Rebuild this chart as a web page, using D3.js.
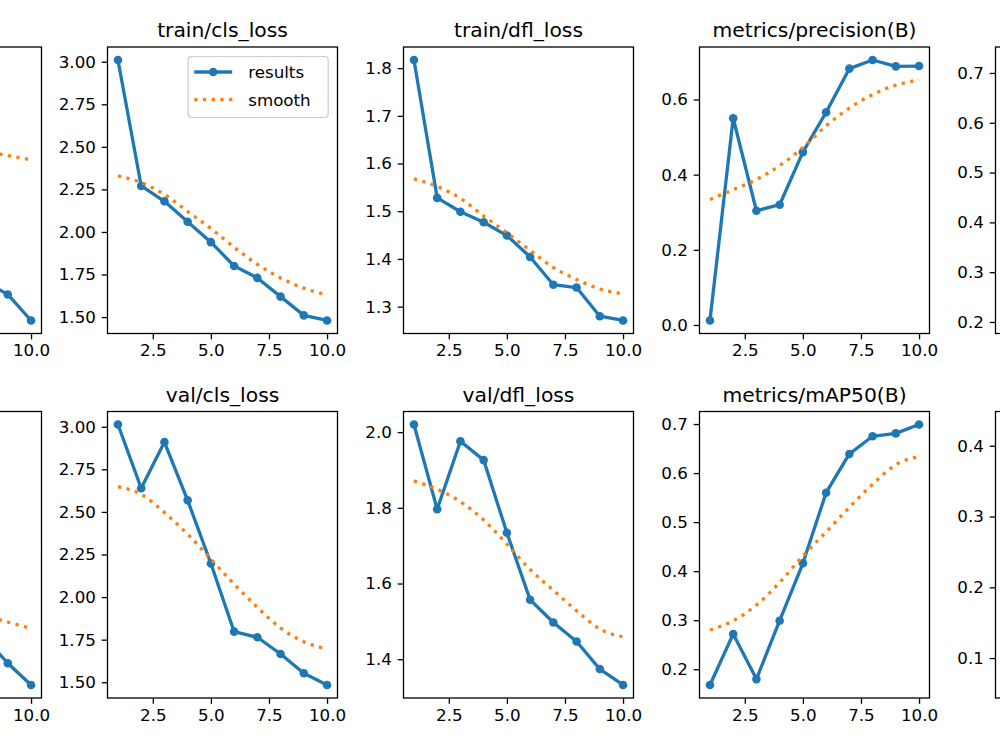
<!DOCTYPE html>
<html>
<head>
<meta charset="utf-8">
<script src="https://cdn.jsdelivr.net/npm/d3@7"></script>
<style>
  body { margin: 0; background: #fff; }
  svg { display: block; font-family: "DejaVu Sans", sans-serif; }
</style>
</head>
<body>
<div id="chart"></div>
<script>
// epochs on the x axis
const epochs = [1, 2, 3, 4, 5, 6, 7, 8, 9, 10];
const xTickLabels = ["2.5", "5.0", "7.5", "10.0"];

// top row
const trainBoxLoss   = [2.00, 1.86, 1.80, 1.74, 1.68, 1.62, 1.56, 1.49, 1.46, 1.40];
const trainBoxSmooth = [1.88, 1.87, 1.86, 1.85, 1.83, 1.82, 1.80, 1.79, 1.78, 1.77];
const trainBoxTicks  = ["1.4", "1.6", "1.8", "2.0"];

const trainClsLoss   = [3.01, 2.27, 2.18, 2.06, 1.94, 1.80, 1.73, 1.62, 1.51, 1.48];
const trainClsSmooth = [2.33, 2.29, 2.22, 2.12, 2.02, 1.91, 1.81, 1.73, 1.67, 1.63];
const trainClsTicks  = ["1.50", "1.75", "2.00", "2.25", "2.50", "2.75", "3.00"];

const trainDflLoss   = [1.817, 1.528, 1.499, 1.477, 1.449, 1.404, 1.346, 1.340, 1.280, 1.271];
const trainDflSmooth = [1.568, 1.552, 1.527, 1.490, 1.455, 1.418, 1.382, 1.357, 1.337, 1.327];
const trainDflTicks  = ["1.3", "1.4", "1.5", "1.6", "1.7", "1.8"];

const precision       = [0.012, 0.550, 0.304, 0.320, 0.460, 0.566, 0.682, 0.705, 0.688, 0.689];
const precisionSmooth = [0.334, 0.360, 0.387, 0.424, 0.472, 0.530, 0.577, 0.613, 0.638, 0.652];
const precisionTicks  = ["0.0", "0.2", "0.4", "0.6"];

const recall       = [0.203, 0.38, 0.45, 0.52, 0.58, 0.63, 0.67, 0.70, 0.72, 0.726];
const recallSmooth = [0.43, 0.46, 0.50, 0.54, 0.58, 0.62, 0.65, 0.67, 0.69, 0.70];
const recallTicks  = ["0.2", "0.3", "0.4", "0.5", "0.6", "0.7"];

// bottom row
const valBoxLoss   = [2.20, 2.12, 2.05, 1.98, 1.90, 1.82, 1.76, 1.71, 1.65, 1.60];
const valBoxSmooth = [2.00, 1.97, 1.93, 1.89, 1.85, 1.81, 1.78, 1.76, 1.745, 1.73];
const valBoxTicks  = ["1.6", "1.8", "2.0", "2.2"];

const valClsLoss   = [3.013, 2.639, 2.910, 2.568, 2.197, 1.797, 1.764, 1.666, 1.553, 1.484];
const valClsSmooth = [2.648, 2.603, 2.496, 2.369, 2.222, 2.076, 1.940, 1.818, 1.738, 1.695];
const valClsTicks  = ["1.50", "1.75", "2.00", "2.25", "2.50", "2.75", "3.00"];

const valDflLoss   = [2.020, 1.796, 1.976, 1.926, 1.734, 1.557, 1.497, 1.447, 1.374, 1.332];
const valDflSmooth = [1.871, 1.849, 1.816, 1.768, 1.704, 1.637, 1.582, 1.528, 1.480, 1.459];
const valDflTicks  = ["1.4", "1.6", "1.8", "2.0"];

const map50       = [0.168, 0.272, 0.180, 0.299, 0.416, 0.560, 0.639, 0.675, 0.681, 0.699];
const map50Smooth = [0.280, 0.299, 0.331, 0.377, 0.431, 0.480, 0.530, 0.577, 0.617, 0.634];
const map50Ticks  = ["0.2", "0.3", "0.4", "0.5", "0.6", "0.7"];

const map5095       = [0.062, 0.10, 0.08, 0.14, 0.21, 0.30, 0.36, 0.40, 0.42, 0.430];
const map5095Smooth = [0.14, 0.15, 0.17, 0.20, 0.24, 0.28, 0.32, 0.35, 0.37, 0.38];
const map5095Ticks  = ["0.1", "0.2", "0.3", "0.4"];

const panels = [
  { title: "train/box_loss", row: 0, col: 0, results: trainBoxLoss, smooth: trainBoxSmooth, ticks: trainBoxTicks },
  { title: "train/cls_loss", row: 0, col: 1, results: trainClsLoss, smooth: trainClsSmooth, ticks: trainClsTicks, legend: true },
  { title: "train/dfl_loss", row: 0, col: 2, results: trainDflLoss, smooth: trainDflSmooth, ticks: trainDflTicks },
  { title: "metrics/precision(B)", row: 0, col: 3, results: precision, smooth: precisionSmooth, ticks: precisionTicks },
  { title: "metrics/recall(B)", row: 0, col: 4, results: recall, smooth: recallSmooth, ticks: recallTicks },
  { title: "val/box_loss", row: 1, col: 0, results: valBoxLoss, smooth: valBoxSmooth, ticks: valBoxTicks },
  { title: "val/cls_loss", row: 1, col: 1, results: valClsLoss, smooth: valClsSmooth, ticks: valClsTicks },
  { title: "val/dfl_loss", row: 1, col: 2, results: valDflLoss, smooth: valDflSmooth, ticks: valDflTicks },
  { title: "metrics/mAP50(B)", row: 1, col: 3, results: map50, smooth: map50Smooth, ticks: map50Ticks },
  { title: "metrics/mAP50-95(B)", row: 1, col: 4, results: map5095, smooth: map5095Smooth, ticks: map5095Ticks }
];

// layout (the figure is cropped: outer columns are half off-canvas)
const W = 1000, H = 750;
const panelW = 230, panelH = 286.5;
const colStep = 296, firstLeft = 107.5 - colStep;
const rowTops = [47, 411.5];
const blue = "#1f77b4", orange = "#ff7f0e";
const tickFont = 16.7, titleFont = 20.3;

const svg = d3.select("#chart").append("svg")
  .attr("width", W)
  .attr("height", H);

svg.append("rect").attr("width", W).attr("height", H).attr("fill", "#fff");

// pad a domain by 5% on each side, like matplotlib autoscale
function padded(vals) {
  const [lo, hi] = d3.extent(vals);
  const m = (hi - lo) * 0.05;
  return [lo - m, hi + m];
}

panels.forEach(p => {
  const g = svg.append("g")
    .attr("transform", `translate(${firstLeft + p.col * colStep}, ${rowTops[p.row]})`);

  const x = d3.scaleLinear().domain(padded(epochs)).range([0, panelW]);
  const y = d3.scaleLinear().domain(padded(p.results.concat(p.smooth))).range([panelH, 0]);

  // axes
  const xAxis = d3.axisBottom(x)
    .tickValues(xTickLabels.map(Number))
    .tickFormat((d, i) => xTickLabels[i])
    .tickSize(5.8).tickPadding(5.2).tickSizeOuter(0);
  const yAxis = d3.axisLeft(y)
    .tickValues(p.ticks.map(Number))
    .tickFormat((d, i) => p.ticks[i])
    .tickSize(5.8).tickPadding(5.8).tickSizeOuter(0);

  const gx = g.append("g").attr("transform", `translate(0, ${panelH})`).call(xAxis);
  const gy = g.append("g").call(yAxis);
  [gx, gy].forEach(a => {
    a.select(".domain").remove();
    a.selectAll("line").attr("stroke", "#000").attr("stroke-width", 1.3);
    a.selectAll("text")
      .attr("fill", "#000")
      .style("font-size", tickFont + "px")
      .style("font-family", "DejaVu Sans");
  });

  // results line + markers
  const line = d3.line().x((d, i) => x(epochs[i])).y(d => y(d));
  g.append("path")
    .datum(p.results)
    .attr("d", line)
    .attr("fill", "none")
    .attr("stroke", blue)
    .attr("stroke-width", 3.3)
    .attr("stroke-linejoin", "round")
    .attr("stroke-linecap", "round");
  g.selectAll(".dot")
    .data(p.results)
    .enter()
    .append("circle")
    .attr("class", "dot")
    .attr("cx", (d, i) => x(epochs[i]))
    .attr("cy", d => y(d))
    .attr("r", 4.3)
    .attr("fill", blue);

  // smoothed curve, dotted
  g.append("path")
    .datum(p.smooth)
    .attr("d", line.curve(d3.curveMonotoneX))
    .attr("fill", "none")
    .attr("stroke", orange)
    .attr("stroke-width", 3.3)
    .attr("stroke-dasharray", "3.3,5.4");

  // frame
  g.append("rect")
    .attr("width", panelW)
    .attr("height", panelH)
    .attr("fill", "none")
    .attr("stroke", "#000")
    .attr("stroke-width", 1.3);

  // title
  g.append("text")
    .text(p.title)
    .attr("x", panelW / 2)
    .attr("y", -10)
    .attr("text-anchor", "middle")
    .attr("fill", "#000")
    .style("font-size", titleFont + "px");

  if (p.legend) {
    const lg = g.append("g").attr("transform", `translate(${panelW - 9.3 - 140}, 9.5)`);
    lg.append("rect")
      .attr("width", 140).attr("height", 61)
      .attr("rx", 3.5)
      .attr("fill", "#fff").attr("fill-opacity", 0.8)
      .attr("stroke", "#cccccc").attr("stroke-width", 1.2);
    const items = [
      { label: "results", color: blue, dotted: false },
      { label: "smooth", color: orange, dotted: true }
    ];
    items.forEach((it, i) => {
      const cy = 15.5 + i * 27.7;
      lg.append("line")
        .attr("x1", 6).attr("x2", 44)
        .attr("y1", cy).attr("y2", cy)
        .attr("stroke", it.color).attr("stroke-width", 3.3)
        .attr("stroke-dasharray", it.dotted ? "3.3,5.4" : null);
      if (!it.dotted) {
        lg.append("circle").attr("cx", 25).attr("cy", cy).attr("r", 4.3).attr("fill", it.color);
      }
      lg.append("text")
        .text(it.label)
        .attr("x", 60).attr("y", cy)
        .attr("dy", "0.35em")
        .attr("fill", "#000")
        .style("font-size", tickFont + "px");
    });
  }
});

// the figure is a crop: texts that fall wholly outside the canvas are not drawn
svg.selectAll("text").each(function() {
  const r = this.getBoundingClientRect();
  if (r.right <= 0 || r.left >= W) d3.select(this).remove();
});
</script>
</body>
</html>
